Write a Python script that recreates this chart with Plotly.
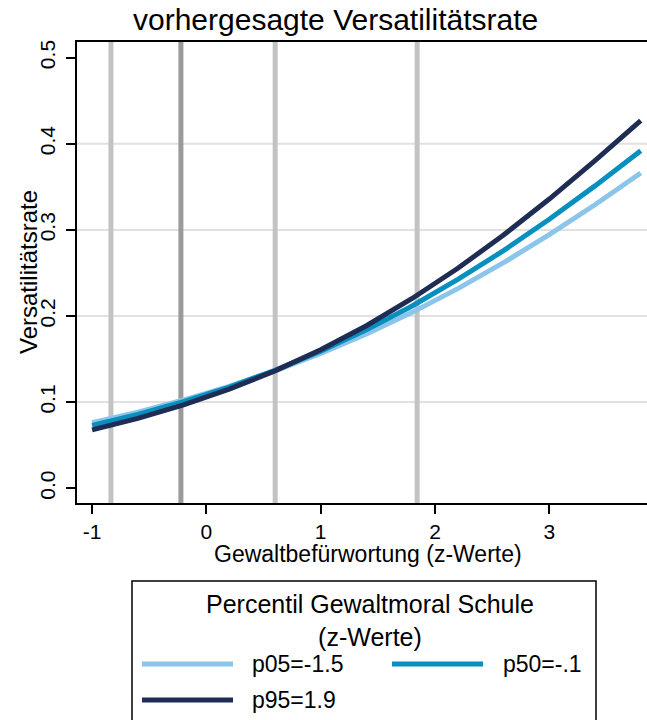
import plotly.graph_objects as go

# ---- data ----
x_vals = [-1.0, -0.6, -0.2, 0.2, 0.6, 1.0, 1.4, 1.8, 2.2, 2.6, 3.0, 3.4, 3.8]
p05 = [0.0762, 0.0884, 0.1024, 0.1183, 0.1363, 0.1565, 0.1791, 0.2042, 0.2318, 0.2619, 0.2945, 0.3292, 0.3660]
p50 = [0.0730, 0.0858, 0.1006, 0.1175, 0.1370, 0.1590, 0.1839, 0.2116, 0.2424, 0.2759, 0.3123, 0.3511, 0.3920]
p95 = [0.0677, 0.0810, 0.0967, 0.1150, 0.1363, 0.1608, 0.1887, 0.2203, 0.2554, 0.2940, 0.3358, 0.3804, 0.4270]
series_names = ["p05=-1.5", "p50=-.1", "p95=1.9"]
ref_x = [-0.835, -0.223, 0.602, 1.844]
ref_dark = [False, True, False, False]
y_ticks = [0.0, 0.1, 0.2, 0.3, 0.4, 0.5]
x_ticks = [-1, 0, 1, 2, 3]
grid_y = [0.1, 0.2, 0.3, 0.4]

colors = ["#8CC5EA", "#068FBF", "#1F2D55"]
FONT = "Liberation Sans, Arial, sans-serif"

W, H = 647, 720
PL, PR, PT, PB = 77, 647, 42, 503


def px(X):
    return (X - PL) / (PR - PL)


def py(Y):
    return (PB - Y) / (PB - PT)


fig = go.Figure()
for ys, c, n in zip([p05, p50, p95], colors, series_names):
    fig.add_trace(go.Scatter(x=x_vals, y=ys, mode="lines", name=n,
                             line=dict(color=c, width=5), showlegend=False,
                             hoverinfo="skip"))

shapes = []
for g in grid_y:
    shapes.append(dict(type="line", xref="paper", yref="y", x0=0, x1=1, y0=g, y1=g,
                       line=dict(color="#E1E1E1", width=2), layer="below"))
for xv, dk in zip(ref_x, ref_dark):
    shapes.append(dict(type="line", xref="x", yref="paper", x0=xv, x1=xv, y0=0, y1=1,
                       line=dict(color="#9A9A9A" if dk else "#C3C3C3", width=5),
                       layer="below"))

# legend box (manual)
shapes.append(dict(type="rect", xref="paper", yref="paper",
                   x0=px(132), x1=px(596), y0=py(581), y1=py(740),
                   line=dict(color="black", width=1.5), fillcolor="rgba(0,0,0,0)"))
leg_pos = [(142, 233, 664, 250), (392, 483, 664, 501), (142, 233, 700, 250)]
annotations = []
for (a, b, yy, tx), c, n in zip(leg_pos, colors, series_names):
    shapes.append(dict(type="line", xref="paper", yref="paper",
                       x0=px(a), x1=px(b), y0=py(yy), y1=py(yy),
                       line=dict(color=c, width=5)))
    annotations.append(dict(text=n, xref="paper", yref="paper", x=px(tx), y=py(yy),
                            xanchor="left", yanchor="middle", showarrow=False,
                            font=dict(size=23, color="black", family=FONT)))

annotations += [
    dict(text="vorhergesagte Versatilitätsrate", xref="paper", yref="paper",
         x=px(335), y=py(20), xanchor="center", yanchor="middle", showarrow=False,
         font=dict(size=30, color="black", family=FONT)),
    dict(text="Versatilitätsrate", xref="paper", yref="paper", x=px(28), y=py(272),
         xanchor="center", yanchor="middle", textangle=-90, showarrow=False,
         font=dict(size=24, color="black", family=FONT)),
    dict(text="Gewaltbefürwortung (z-Werte)", xref="paper", yref="paper",
         x=px(368), y=py(554), xanchor="center", yanchor="middle", showarrow=False,
         font=dict(size=23, color="black", family=FONT)),
    dict(text="Percentil Gewaltmoral Schule<br>(z-Werte)", xref="paper", yref="paper",
         x=px(370), y=py(620), xanchor="center", yanchor="middle", showarrow=False,
         align="center", font=dict(size=25, color="black", family=FONT)),
]

fig.update_layout(
    width=W, height=H,
    margin=dict(l=PL, r=W - PR, t=PT, b=H - PB, pad=0),
    paper_bgcolor="white", plot_bgcolor="white",
    showlegend=False,
    shapes=shapes, annotations=annotations,
    font=dict(family=FONT, color="black"),
    xaxis=dict(range=[-1.132, 3.855], tickvals=x_ticks, ticktext=[str(t) for t in x_ticks],
               showgrid=False, zeroline=False, showline=True, linecolor="black",
               linewidth=1.5, mirror=True, ticks="outside", ticklen=9, tickwidth=1.5,
               tickcolor="black", tickfont=dict(size=21, family=FONT)),
    yaxis=dict(range=[-0.0172, 0.5182], tickvals=y_ticks,
               ticktext=["%.1f" % t for t in y_ticks],
               showgrid=False, zeroline=False, showline=True, linecolor="black",
               linewidth=1.5, ticks="outside", ticklen=9, tickwidth=1.5,
               tickcolor="black", tickangle=-90, ticklabelstandoff=3,
               tickfont=dict(size=21, family=FONT)),
)

fig.write_html("out.html", config={"displayModeBar": False},
               post_script="document.body.style.margin='0';document.body.style.padding='0';")
